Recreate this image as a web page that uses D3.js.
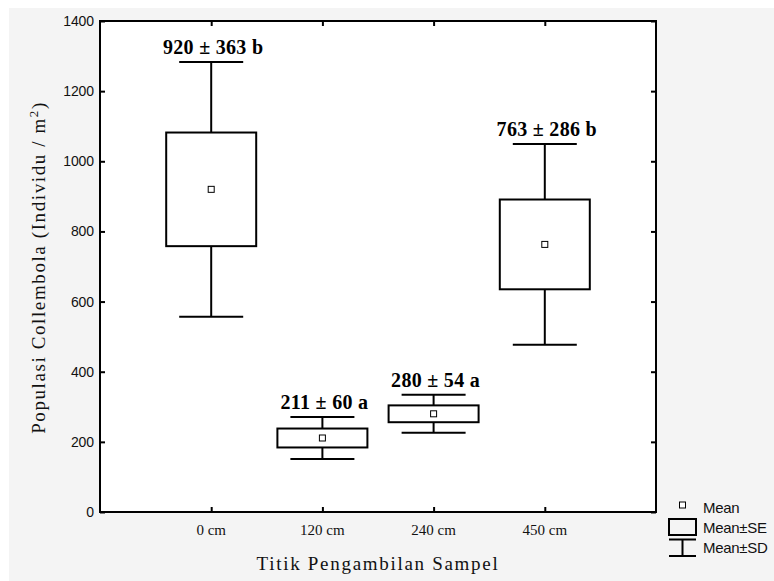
<!DOCTYPE html>
<html><head><meta charset="utf-8">
<script src="https://cdn.jsdelivr.net/npm/d3@7"></script>
<style>body{margin:0;background:#fff}svg{display:block}</style>
</head><body>
<script>
const categories = ["0 cm", "120 cm", "240 cm", "450 cm"];
const means = [920, 211, 280, 763];
const sds = [363, 60, 54, 286];
const ses = [162, 27, 24, 128];
const letters = ["b", "a", "a", "b"];
const yTicks = [0, 200, 400, 600, 800, 1000, 1200, 1400];

const W = 774, H = 581;
const svg = d3.select("body").append("svg").attr("width", W).attr("height", H);
svg.append("rect").attr("x", 9).attr("y", 8).attr("width", W - 9).attr("height", H - 8).attr("fill", "#f4f4f4");

const L = 100, R = 656, T = 21, B = 512;
svg.append("rect").attr("x", L).attr("y", T).attr("width", R - L).attr("height", B - T).attr("fill", "#fff");

const x = d3.scalePoint().domain(categories).range([L, R]).padding(1);
const y = d3.scaleLinear().domain([0, 1400]).range([B, T]);

// axes with inward ticks
const axL = svg.append("g").attr("transform", `translate(${L},0)`).call(d3.axisRight(y).tickValues(yTicks).tickSize(5).tickFormat(""));
const axR = svg.append("g").attr("transform", `translate(${R},0)`).call(d3.axisLeft(y).tickValues(yTicks).tickSize(5).tickFormat(""));
const axB = svg.append("g").attr("transform", `translate(0,${B})`).call(d3.axisTop(x).tickSize(5).tickFormat(""));
const axT = svg.append("g").attr("transform", `translate(0,${T})`).call(d3.axisBottom(x).tickSize(5).tickFormat(""));
[axL, axR, axB, axT].forEach(g => { g.select(".domain").remove(); g.selectAll("line").attr("stroke", "#000").attr("stroke-width", 2); });

// frame
svg.append("rect").attr("x", L).attr("y", T).attr("width", R - L).attr("height", B - T)
  .attr("fill", "none").attr("stroke", "#000").attr("stroke-width", 2);

// y tick labels
svg.append("g").selectAll("text").data(yTicks).join("text")
  .attr("x", L - 6).attr("y", d => y(d)).attr("dy", "0.36em").attr("text-anchor", "end")
  .attr("font-family", "Liberation Sans, Arial, sans-serif").attr("font-size", 14).attr("letter-spacing", -0.1)
  .attr("fill", "#111").text(d => d);

// x tick labels
svg.append("g").selectAll("text").data(categories).join("text")
  .attr("x", d => x(d)).attr("y", B + 23).attr("text-anchor", "middle")
  .attr("font-family", "Liberation Serif, Times New Roman, serif").attr("font-size", 15)
  .attr("fill", "#111").text(d => d);

// boxes
const boxW = 90, capW = 64;
const g = svg.append("g");
categories.forEach((c, i) => {
  const cx = x(c);
  const hi = means[i] + sds[i], lo = means[i] - sds[i];
  const seHi = means[i] + ses[i], seLo = means[i] - ses[i];
  g.append("line").attr("x1", cx).attr("x2", cx).attr("y1", y(hi)).attr("y2", y(seHi)).attr("stroke", "#000").attr("stroke-width", 2);
  g.append("line").attr("x1", cx).attr("x2", cx).attr("y1", y(seLo)).attr("y2", y(lo)).attr("stroke", "#000").attr("stroke-width", 2);
  g.append("line").attr("x1", cx - capW / 2).attr("x2", cx + capW / 2).attr("y1", y(hi)).attr("y2", y(hi)).attr("stroke", "#000").attr("stroke-width", 2);
  g.append("line").attr("x1", cx - capW / 2).attr("x2", cx + capW / 2).attr("y1", y(lo)).attr("y2", y(lo)).attr("stroke", "#000").attr("stroke-width", 2);
  g.append("rect").attr("x", cx - boxW / 2).attr("y", y(seHi)).attr("width", boxW).attr("height", y(seLo) - y(seHi))
    .attr("fill", "#fff").attr("stroke", "#000").attr("stroke-width", 2);
  g.append("rect").attr("x", cx - 3).attr("y", y(means[i]) - 3).attr("width", 6).attr("height", 6)
    .attr("fill", "#fff").attr("stroke", "#000").attr("stroke-width", 1);
  g.append("text").attr("x", cx + 2).attr("y", y(hi) - 8).attr("text-anchor", "middle")
    .attr("font-family", "Liberation Serif, Times New Roman, serif").attr("font-size", 20).attr("font-weight", "bold")
    .attr("letter-spacing", 0.3).attr("fill", "#000").text(`${means[i]} ± ${sds[i]} ${letters[i]}`);
});

// axis titles
svg.append("text").attr("transform", `translate(45,${(T + B) / 2 + 1}) rotate(-90)`).attr("text-anchor", "middle")
  .attr("font-family", "Liberation Serif, Times New Roman, serif").attr("font-size", 19).attr("letter-spacing", 1.6).attr("fill", "#111")
  .html('Populasi Collembola (Individu / m<tspan dy="-7" font-size="13">2</tspan><tspan dy="7">)</tspan>');
svg.append("text").attr("x", (L + R) / 2).attr("y", 570).attr("text-anchor", "middle")
  .attr("font-family", "Liberation Serif, Times New Roman, serif").attr("font-size", 19).attr("letter-spacing", 1.7).attr("fill", "#111")
  .text("Titik Pengambilan Sampel");

// legend
const lg = svg.append("g").attr("font-family", "Liberation Sans, Arial, sans-serif").attr("font-size", 15).attr("fill", "#111");
lg.append("rect").attr("x", 679.5).attr("y", 502).attr("width", 6).attr("height", 6).attr("fill", "#fff").attr("stroke", "#000");
lg.append("text").attr("x", 703).attr("y", 513).attr("letter-spacing", -0.3).text("Mean");
lg.append("rect").attr("x", 669).attr("y", 519).attr("width", 27).attr("height", 16).attr("fill", "none").attr("stroke", "#000").attr("stroke-width", 2);
lg.append("text").attr("x", 703).attr("y", 533).attr("letter-spacing", -0.3).text("Mean±SE");
lg.append("line").attr("x1", 669).attr("x2", 696).attr("y1", 539.5).attr("y2", 539.5).attr("stroke", "#000").attr("stroke-width", 2);
lg.append("line").attr("x1", 682.5).attr("x2", 682.5).attr("y1", 539.5).attr("y2", 556).attr("stroke", "#000").attr("stroke-width", 2);
lg.append("line").attr("x1", 669).attr("x2", 696).attr("y1", 556).attr("y2", 556).attr("stroke", "#000").attr("stroke-width", 2);
lg.append("text").attr("x", 703).attr("y", 553).attr("letter-spacing", -0.3).text("Mean±SD");
</script>
</body></html>
